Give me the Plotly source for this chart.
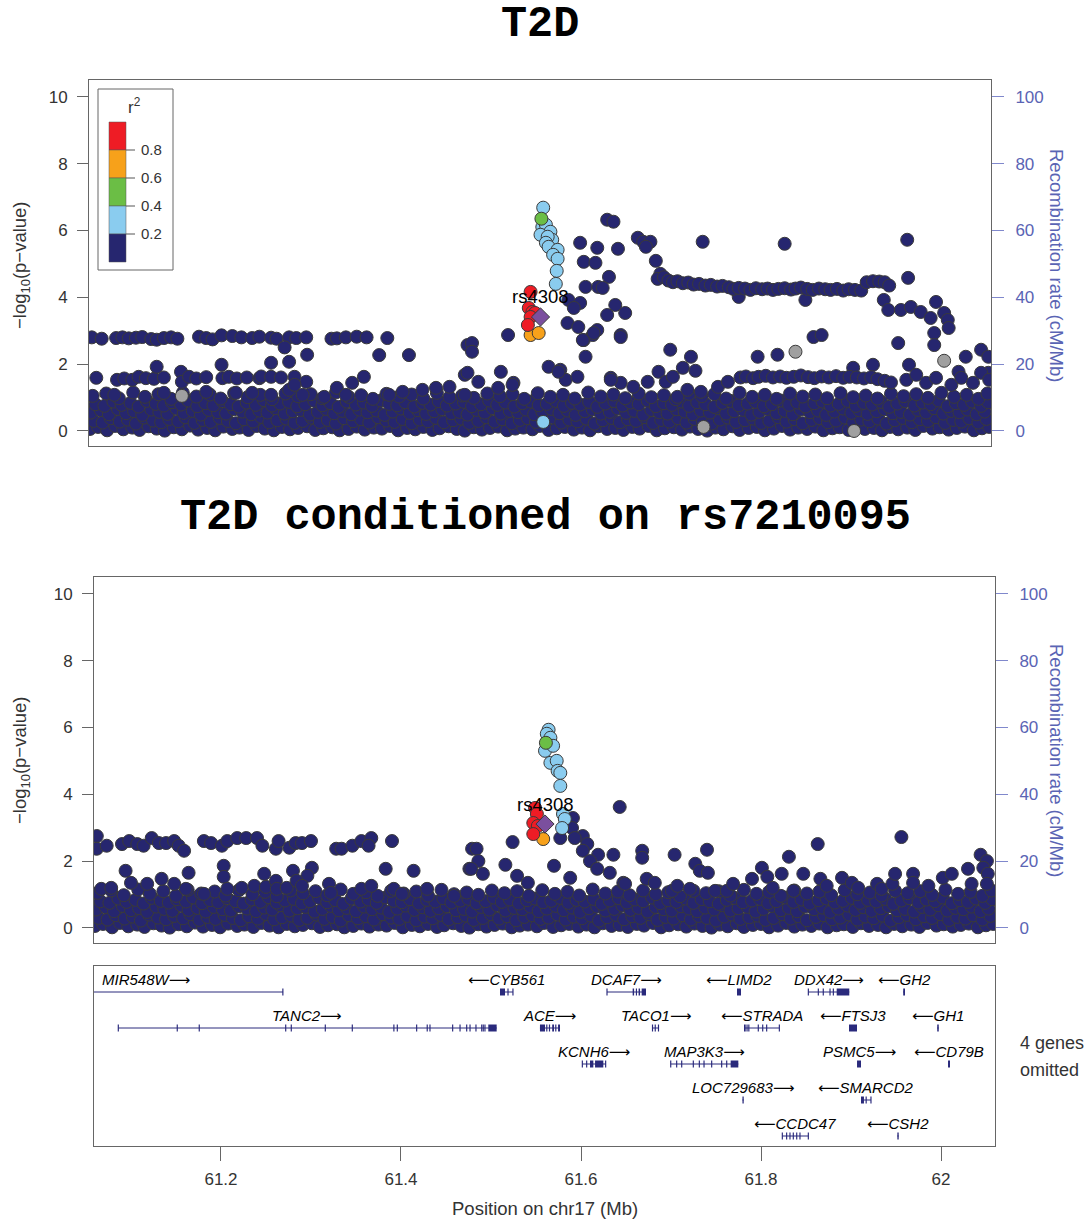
import plotly.graph_objects as go

W, H = 1092, 1222

# ---------------- DATA ----------------
# SNP positions are given in kb past 61.0 Mb on chr17; values are -log10(p)
# dense low-significance background shared by both panels
band = [
 (60,.06),(69,.12),(79,.02),(88,.15),(97,.05),(107,.10),(115,.03),(125,.14),(134,.07),(143,.01),(153,.11),(162,.05),(171,.16),(180,.04),(190,.09),(199,.02),(208,.13),(218,.06),(226,.10),(236,.03),(245,.15),(254,.07),(264,.02),(273,.12),(282,.05),(291,.09),(301,.14),(310,.03),(319,.08),(329,.11),(337,.02),(347,.06),(356,.13),(365,.04),(375,.10),(384,.07),(393,.15),(402,.02),(412,.09),(421,.05),(430,.12),(440,.03),(448,.08),(458,.14),(467,.06),(476,.01),(486,.11),(495,.04),(504,.09),(513,.13),(523,.02),(532,.07),(541,.10),(551,.05),(559,.15),(569,.03),(578,.08),(587,.12),(597,.04),(606,.10),(615,.02),(624,.14),(634,.06),(643,.09),(652,.03),(662,.12),(670,.07),(680,.15),(689,.02),(698,.08),(708,.11),(717,.04),(726,.13),(735,.06),(745,.01),(754,.10),(763,.05),(773,.14),(781,.03),(791,.09),(800,.12),(809,.02),(819,.07),(828,.15),(837,.04),(846,.10),(856,.06),(865,.13),(874,.02),(884,.08),(892,.11),(902,.03),(911,.14),(920,.06),(930,.09),(939,.02),(948,.12),(957,.05),(967,.10),(976,.03),(985,.15),(995,.07),(1003,.11),(1013,.04),(1022,.09),(1031,.13),(1041,.02),(1050,.08),(1058,.12),
 (64,.30),(74,.25),(83,.38),(93,.28),(102,.34),(111,.22),(120,.40),(130,.31),(139,.26),(148,.36),(158,.29),(166,.41),(176,.24),(185,.33),(194,.27),(204,.39),(213,.30),(222,.23),(231,.35),(241,.28),(250,.42),(259,.26),(268,.32),(278,.37),(287,.24),(296,.30),(306,.40),(315,.27),(324,.33),(333,.22),(342,.38),(352,.29),(361,.35),(370,.25),(380,.41),(389,.31),(398,.27),(407,.36),(417,.23),(426,.34),(435,.29),(444,.39),(453,.26),(463,.32),(472,.37),(481,.24),(491,.30),(500,.41),(509,.28),(518,.35),(528,.23),(537,.33),(546,.38),(555,.27),(564,.31),(574,.40),(583,.25),(592,.34),(601,.29),(611,.37),(620,.22),(629,.32),(639,.39),(648,.26),(657,.35),(666,.30),(676,.41),(685,.24),(694,.33),(703,.28),(713,.38),(722,.25),(731,.36),(740,.30),(750,.22),(759,.34),(768,.40),(777,.27),(787,.32),(796,.37),(805,.24),(814,.30),(824,.41),(833,.28),(842,.35),(851,.23),(861,.33),(870,.38),(879,.26),(888,.31),(898,.40),(907,.25),(916,.34),(925,.29),(935,.37),(944,.22),(953,.32),(962,.39),(972,.26),(981,.35),(990,.30),(999,.41),(1009,.24),(1018,.33),(1027,.28),(1036,.38),(1046,.25),(1055,.36),
 (61,.55),(72,.62),(81,.50),(91,.66),(100,.53),(109,.59),(118,.48),(128,.64),(137,.57),(146,.51),(156,.67),(164,.54),(174,.60),(183,.49),(192,.63),(202,.56),(211,.52),(220,.65),(229,.58),(239,.50),(248,.61),(257,.55),(266,.68),(276,.52),(285,.59),(294,.63),(304,.49),(313,.57),(322,.66),(331,.53),(340,.60),(350,.50),(359,.64),(368,.56),(378,.61),(387,.48),(396,.58),(405,.67),(415,.54),(424,.62),(433,.51),(442,.59),(451,.65),(461,.53),(470,.57),(479,.49),(489,.63),(498,.55),(507,.68),(516,.52),(526,.60),(535,.56),(544,.64),(553,.50),(562,.58),(572,.66),(581,.53),(590,.61),(599,.48),(609,.59),(618,.64),(627,.52),(637,.57),(646,.67),(655,.54),(664,.60),(674,.49),(683,.63),(692,.56),(701,.52),(711,.65),(720,.58),(729,.50),(738,.61),(748,.55),(757,.68),(766,.52),(775,.59),(785,.63),(794,.49),(803,.57),(812,.66),(822,.53),(831,.60),(840,.50),(849,.64),(859,.56),(868,.61),(877,.48),(886,.58),(896,.67),(905,.54),(914,.62),(923,.51),(933,.59),(942,.65),(951,.53),(960,.57),(970,.49),(979,.63),(988,.55),(997,.68),(1007,.52),(1016,.60),(1025,.56),(1034,.64),(1044,.50),(1053,.58),
 (66,.80),(76,.75),(86,.88),(95,.78),(105,.84),(114,.73),(123,.90),(133,.81),(142,.76),(151,.86),(161,.79),(169,.91),(179,.74),(188,.83),(197,.77),(207,.89),(216,.80),(225,.73),(234,.85),(244,.78),(253,.92),(262,.76),(271,.82),(281,.87),(290,.74),(299,.80),(309,.90),(318,.77),(327,.83),(336,.72),(345,.88),(355,.79),(364,.85),(373,.75),(383,.91),(392,.81),(401,.77),(410,.86),(420,.73),(429,.84),(438,.79),(447,.89),(456,.76),(466,.82),(475,.87),(484,.74),(494,.80),(503,.91),(512,.78),(521,.85),(531,.73),(540,.83),(549,.88),(558,.77),(567,.81),(577,.90),(586,.75),(595,.84),(604,.79),(614,.87),(623,.72),(632,.82),(642,.89),(651,.76),(660,.85),(669,.80),(679,.91),(688,.74),(697,.83),(706,.78),(716,.88),(725,.75),(734,.86),(743,.80),(753,.72),(762,.84),(771,.90),(780,.77),(790,.82),(799,.87),(808,.74),(817,.80),(827,.91),(836,.78),(845,.85),(854,.73),(864,.83),(873,.88),(882,.76),(891,.81),(901,.90),(910,.75),(919,.84),(928,.79),(938,.87),(947,.72),(956,.82),(965,.89),(975,.76),(984,.85),(993,.80),(1002,.91),(1012,.74),(1021,.83),(1030,.78),(1039,.88),(1049,.75),(1057,.86),
 (63,1.05),(78,1.12),(92,.98),(108,1.15),(121,1.02),(136,1.10),(150,.96),(163,1.14),(178,1.03),(193,1.09),(205,.97),(220,1.13),(235,1.01),(249,1.08),(262,.95),(277,1.12),(291,1.04),(305,1.10),(318,.98),(333,1.15),(347,1.02),(361,1.07),(374,.96),(389,1.11),(403,1.03),(417,1.09),(430,.97),(445,1.14),(459,1.01),(473,1.06),(486,.99),(501,1.12),(515,1.04),(529,1.10),(542,.96),(557,1.13),(571,1.02),(585,1.08),(598,.97),(613,1.15),(627,1.03),(641,1.09),(654,.98),(669,1.12),(683,1.01),(697,1.07),(710,.95),(725,1.11),(739,1.04),(753,1.10),(766,.97),(781,1.14),(795,1.02),(809,1.08),(822,.96),(837,1.12),(851,1.03),(865,1.09),(878,.98),(893,1.13),(907,1.01),(921,1.06),(934,.97),(949,1.11),(963,1.04),(977,1.10),(990,.99),(1005,1.14),(1019,1.02),(1033,1.08),(1046,.96),(1056,1.12),
]

# ---- Panel 1: T2D ----
t2d_navy = [
 # row near 2.8
 (62,2.80),(73,2.76),(89,2.78),(96,2.80),(103,2.77),(111,2.79),(118,2.81),(128,2.75),(134,2.73),(142,2.78),(150,2.80),(157,2.76),(181,2.82),(189,2.78),(196,2.74),(206,2.86),(218,2.84),(228,2.80),(240,2.78),(248,2.82),(261,2.79),(267,2.76),(281,2.80),(289,2.78),(300,2.80),(328,2.76),(334,2.77),(344,2.80),(356,2.82),(367,2.80),(390,2.78),
 (276,2.50),(301,2.28),(381,2.27),(414,2.27),(479,2.57),
 # row near 1.6
 (67,1.59),(90,1.53),(98,1.57),(107,1.53),(114,1.62),(122,1.58),(131,1.56),(134,1.92),(142,1.60),(161,1.77),(162,1.47),(170,1.62),(178,1.57),(189,1.61),(206,1.98),(207,1.58),(214,1.62),(223,1.57),(234,1.60),(248,1.58),(250,1.63),(261,2.04),(261,1.62),(272,1.60),(281,2.07),(287,1.62),(300,1.47),(351,1.44),(364,1.62),(476,1.68),
 (87,1.08),(142,1.14),(189,1.17),(222,1.14),(240,1.14),(261,1.08),(281,1.23),(287,1.38),(296,1.08),(320,1.02),(334,1.29),(344,1.08),(392,1.08),(407,1.17),(429,1.23),(444,1.29),(459,1.32),(476,1.08),
 # around the peak
 (634,6.32),(641,6.26),(668,5.78),(674,5.66),(682,5.66),(677,5.51),(604,5.63),(623,5.48),(646,5.45),(608,5.06),(621,5.03),(688,5.09),(693,4.70),(636,4.61),(610,4.31),(624,4.31),(629,4.28),(591,3.92),(604,3.83),(597,3.68),(643,3.77),(634,3.47),(654,3.53),(590,3.23),(602,3.11),(623,3.02),(608,2.72),(649,2.87),(618,2.87),(607,2.72),(619,2.93),(649,2.81),(524,2.87),(484,2.63),(484,2.37),(610,2.22),(569,1.92),(479,1.74),(516,1.77),(530,1.44),(638,1.59),(582,1.83),(588,1.53),(580,1.77),(601,1.62),(649,1.44),(491,1.47),(513,1.29),(529,1.38),
 (740,5.66),(831,5.60),(967,5.72),(968,4.58),(704,2.43),(727,2.22),(718,1.89),(732,1.80),(691,1.77),(863,2.81),(872,2.87),(801,2.22),(823,2.28),(907,1.89),(929,1.98),(957,2.63),(969,1.98),(1024,1.77),(1032,2.22),(1049,2.43),(1057,2.22),(1057,1.74),(780,4.01),(854,3.92),
 # plateau near 4.3
 (690,4.55),(697,4.60),(702,4.50),(707,4.45),(712,4.48),(718,4.42),(724,4.44),(730,4.38),(736,4.40),(743,4.35),(749,4.37),(756,4.32),(762,4.34),(769,4.30),(774,4.25),(780,4.28),(787,4.26),(793,4.22),(799,4.27),(806,4.24),(812,4.26),(818,4.22),(824,4.25),(831,4.27),(838,4.23),(843,4.26),(849,4.29),(856,4.25),(862,4.22),(869,4.26),(876,4.24),(882,4.22),(889,4.25),(896,4.20),(902,4.24),(909,4.22),(916,4.20),(922,4.45),(929,4.48),(936,4.47),(942,4.45),(947,4.35),
 (941,3.92),(946,3.62),(960,3.62),(971,3.71),(982,3.56),(993,3.38),(999,3.86),(1008,3.53),(1012,3.32),(1013,3.08),(997,2.93),(997,2.57),
 # plateau near 1.6
 (782,1.60),(788,1.63),(796,1.58),(802,1.62),(810,1.65),(818,1.60),(826,1.63),(833,1.59),(841,1.62),(849,1.66),(857,1.61),(864,1.58),(872,1.63),(880,1.60),(888,1.64),(896,1.59),(903,1.62),(911,1.60),(919,1.57),(927,1.61),(934,1.55),(942,1.50),(949,1.45),
 (638,1.53),(663,1.32),(679,1.47),(699,1.47),(707,1.62),(712,1.02),(723,1.23),(738,1.17),(757,1.32),(768,1.47),(966,1.53),(977,1.68),(988,1.44),(999,1.59),(1016,1.38),(1027,1.59),(1040,1.44),(1049,1.74),(1058,1.53),
]
t2d_gray = [(162,1.05),(843,2.37),(1008,2.10),(908,0.00),(741,0.12)]
t2d_lightblue = [(563,6.68),(562,6.10),(566,6.17),(571,5.96),(560,5.87),(573,5.72),(568,5.81),(566,5.63),(569,5.51),(579,5.42),(574,5.27),(579,5.15),(578,4.79),(577,4.40),(563,0.27)]
t2d_green = [(561,6.35)]
t2d_orange = [(549,2.87),(558,2.93)]
t2d_red = [(549,4.16),(547,3.68),(551,3.56),(554,3.53),(549,3.41),(546,3.17)]
t2d_lead = [(560,3.41)]

# ---- Panel 2: T2D conditioned on rs7210095 ----
cond_navy = [
 # row near 2.5
 (62,2.75),(62,2.37),(73,2.46),(90,2.51),(98,2.60),(107,2.51),(114,2.46),(123,2.69),(131,2.54),(139,2.54),(148,2.60),(153,2.46),(159,2.31),(181,2.60),(189,2.54),(201,2.46),(207,2.60),(218,2.69),(228,2.69),(240,2.69),(246,2.46),(261,2.37),(264,2.60),(276,2.40),(283,2.54),(290,2.54),(300,2.60),(328,2.37),(334,2.37),(346,2.46),(356,2.60),(367,2.69),(364,2.46),(390,2.60),(479,2.37),
 # near 1.7
 (94,1.71),(164,1.65),(203,1.86),(203,1.53),(248,1.62),(280,1.71),(301,1.80),(296,1.56),(383,1.77),(414,1.71),(476,1.77),
 # near 1.2
 (100,1.35),(118,1.32),(134,1.47),(148,1.32),(67,1.17),(78,1.20),(161,1.17),(181,1.02),(207,1.17),(223,1.20),(237,1.26),(250,1.23),(261,1.41),(262,1.17),(273,1.20),(284,1.41),(290,1.26),(320,1.32),(322,1.05),(356,1.17),(367,1.26),(392,1.17),(401,1.02),(429,1.17),(459,0.96),
 # around the peak
 (643,3.62),(591,3.29),(590,2.99),(602,2.75),(607,2.51),(593,2.69),(577,2.69),(524,2.57),(484,2.37),(486,2.00),(478,1.77),(491,1.62),(516,1.89),(570,1.86),(619,2.19),(636,2.19),(668,2.31),(668,2.10),(602,2.31),(610,2.00),(618,1.77),(632,1.65),(588,1.50),(647,1.35),(529,1.56),(541,1.35),
 # right side
 (704,2.19),(740,2.34),(831,2.13),(863,2.51),(956,2.72),(1044,2.19),(1051,2.00),
 (649,1.32),(673,1.47),(682,1.35),(701,1.11),(707,1.26),(721,1.17),(727,1.92),(732,1.71),(741,1.65),(749,1.11),(762,1.11),(769,1.32),(790,1.47),(801,1.80),(807,1.53),(813,1.20),(823,1.62),(836,1.11),(847,1.62),(866,1.47),(873,1.26),(890,1.50),(901,1.35),(908,1.20),(929,1.32),(934,1.17),(946,1.32),(949,1.62),(969,1.62),(969,1.35),(986,1.26),(1002,1.50),(1012,1.62),(1030,1.77),(1034,1.32),(1047,1.80),(1052,1.62),(1051,1.32),
]
cond_lightblue = [(564,5.93),(562,5.81),(566,5.69),(560,5.30),(569,5.45),(566,4.94),(573,5.00),(574,4.70),(577,4.64),(577,4.25),(580,3.41),(582,3.26),(579,2.99)]
cond_green = [(561,5.54)]
cond_orange = [(558,2.66)]
cond_red = [(549,3.59),(551,3.41),(547,3.14),(552,3.05),(547,2.81)]
cond_lead = [(560,3.11)]

lead_snp = "rs4308"

# ---- LD legend ----
ld_bins = ["0.8", "0.6", "0.4", "0.2"]
ld_colors = ["#EE1C25", "#F7A11A", "#6BBE45", "#8ACCEF", "#26266F"]

# ---- Genes (Mb) ----
gene_name = ["MIR548W", "TANC2", "CYB561", "ACE", "DCAF7", "LIMD2", "DDX42", "GH2", "TACO1", "STRADA",
             "FTSJ3", "GH1", "KCNH6", "MAP3K3", "PSMC5", "CD79B", "LOC729683", "SMARCD2", "CCDC47", "CSH2"]
gene_start = [60.964, 61.0859, 61.5100, 61.5544, 61.6289, 61.7733, 61.8526, 61.9580, 61.6789, 61.7811,
              61.8978, 61.9958, 61.6015, 61.6997, 61.9067, 62.0078, 61.7794, 61.9111, 61.8237, 61.9515]
gene_end = [61.269, 61.5063, 61.5244, 61.5767, 61.6722, 61.7778, 61.8981, 61.9600, 61.6867, 61.8204,
            61.9067, 61.9975, 61.6274, 61.7748, 61.9111, 62.0100, 61.7808, 61.9222, 61.8526, 61.9530]
gene_row = [1, 2, 1, 2, 1, 1, 1, 1, 2, 2, 2, 2, 3, 3, 3, 3, 4, 4, 5, 5]
gene_strand = ["+", "+", "-", "+", "+", "-", "+", "-", "+", "-", "-", "-", "+", "+", "+", "-", "+", "-", "-", "-"]
gene_exons = [
    [(61.2685, 61.269)],
    [(61.0859, 61.0859), (61.1514, 61.1514), (61.1755, 61.1762), (61.2719, 61.2719), (61.2781, 61.2781),
     (61.3159, 61.3159), (61.3459, 61.3459), (61.3918, 61.3924), (61.3959, 61.3959), (61.4174, 61.4174),
     (61.4289, 61.4294), (61.4322, 61.4322), (61.4574, 61.4574), (61.4653, 61.4659), (61.4727, 61.4733),
     (61.4767, 61.4767), (61.4833, 61.4833), (61.4897, 61.4897), (61.4914, 61.4914), (61.4933, 61.4933),
     (61.4970, 61.5063)],
    [(61.5100, 61.5156), (61.5189, 61.5189), (61.5244, 61.5244)],
    [(61.5544, 61.5600), (61.5620, 61.5620), (61.5650, 61.5650), (61.5680, 61.5700), (61.5720, 61.5720), (61.5745, 61.5767)],
    [(61.6289, 61.6289), (61.6574, 61.6590), (61.6610, 61.6622), (61.6640, 61.6656), (61.6674, 61.6722)],
    [(61.7733, 61.7778)],
    [(61.8526, 61.8526), (61.8637, 61.8637), (61.8692, 61.8692), (61.8767, 61.8767), (61.8804, 61.8804), (61.8841, 61.8981)],
    [(61.9580, 61.9600)],
    [(61.6789, 61.6800), (61.6820, 61.6830), (61.6855, 61.6867)],
    [(61.7811, 61.7830), (61.7845, 61.7845), (61.7860, 61.7870), (61.7970, 61.7970), (61.8019, 61.8019), (61.8063, 61.8063), (61.8204, 61.8204)],
    [(61.8978, 61.9067)],
    [(61.9958, 61.9975)],
    [(61.6015, 61.6015), (61.6063, 61.6063), (61.6100, 61.6137), (61.6156, 61.6248), (61.6274, 61.6274)],
    [(61.6997, 61.6997), (61.7063, 61.7063), (61.7119, 61.7119), (61.7248, 61.7248), (61.7315, 61.7315),
     (61.7367, 61.7367), (61.7452, 61.7452), (61.7563, 61.7563), (61.7619, 61.7619), (61.7663, 61.7748)],
    [(61.9067, 61.9111)],
    [(62.0078, 62.0100)],
    [(61.7794, 61.7808)],
    [(61.9111, 61.9144), (61.9165, 61.9172), (61.9222, 61.9222)],
    [(61.8237, 61.8237), (61.8285, 61.8285), (61.8322, 61.8322), (61.8359, 61.8359), (61.8397, 61.8397), (61.8433, 61.8433), (61.8526, 61.8526)],
    [(61.9515, 61.9530)],
]
omitted_note = ["4 genes", "omitted"]

x_ticks = [61.2, 61.4, 61.6, 61.8, 62.0]
x_tick_text = ["61.2", "61.4", "61.6", "61.8", "62"]
p_ticks = [0, 2, 4, 6, 8, 10]
rec_ticks = [0, 20, 40, 60, 80, 100]

titles = ["T2D", "T2D conditioned on rs7210095"]

# ---------------- FIGURE ----------------
FONT = "Liberation Sans, Arial, sans-serif"
MONO = "Liberation Mono, Courier New, monospace"
AX = "#666666"
TXT = "#333333"
REC = "#5A64B4"
GENE = "#2A2A7C"
OUTL = "#3A3A3A"
XR = [61.0589, 62.0600]


def px(x):
    return x / W


def py(y):
    return 1 - y / H


fig = go.Figure()


def add_points(pts, color, xa, ya, symbol="circle", size=13):
    fig.add_trace(go.Scatter(
        x=[61.0 + k / 1000.0 for k, _ in pts], y=[v for _, v in pts],
        mode="markers", xaxis=xa, yaxis=ya, showlegend=False, hoverinfo="skip",
        marker=dict(color=color, size=size, symbol=symbol, line=dict(color=OUTL, width=1))))


for xa, ya, navy, gray, lb, gr, orr, red, lead in [
        ("x", "y", t2d_navy, t2d_gray, t2d_lightblue, t2d_green, t2d_orange, t2d_red, t2d_lead),
        ("x2", "y3", cond_navy, [], cond_lightblue, cond_green, cond_orange, cond_red, cond_lead)]:
    add_points(band, ld_colors[4], xa, ya)
    add_points(navy, ld_colors[4], xa, ya)
    if gray:
        add_points(gray, "#A0A0A0", xa, ya)
    add_points(lb, ld_colors[3], xa, ya)
    add_points(gr, ld_colors[2], xa, ya)
    add_points(orr, ld_colors[1], xa, ya)
    add_points(red, ld_colors[0], xa, ya)
    add_points(lead, "#7B4F9E", xa, ya, symbol="diamond", size=14)

# empty traces to register the recombination-rate axes and gene axis
fig.add_trace(go.Scatter(x=[61.5], y=[None], xaxis="x", yaxis="y2", showlegend=False, hoverinfo="skip"))
fig.add_trace(go.Scatter(x=[61.5], y=[None], xaxis="x2", yaxis="y4", showlegend=False, hoverinfo="skip"))
fig.add_trace(go.Scatter(x=[61.5], y=[None], xaxis="x3", yaxis="y5", showlegend=False, hoverinfo="skip"))

top_dom_x = [px(89), px(991)]
bot_dom_x = [px(94), px(995)]
top_dom_y = [py(446), py(80)]
bot_dom_y = [py(943), py(577)]
gene_dom_y = [py(1146), py(966)]

box = dict(showline=True, mirror=True, linecolor=AX, linewidth=1, showgrid=False, zeroline=False)
p_axis = dict(range=[-0.45, 10.5], tickvals=p_ticks, ticks="outside", ticklen=11, tickcolor=AX,
              tickfont=dict(family=FONT, size=17, color=TXT), ticklabelstandoff=6, **box)
r_axis = dict(range=[-4.5, 105], tickvals=rec_ticks, ticks="outside", ticklen=12, tickcolor="#8088CC",
              tickfont=dict(family=FONT, size=17, color=REC), ticklabelstandoff=8, side="right",
              showgrid=False, zeroline=False, showline=False)

fig.update_layout(
    width=W, height=H, margin=dict(l=0, r=0, t=0, b=0),
    paper_bgcolor="white", plot_bgcolor="white",
    xaxis=dict(domain=top_dom_x, range=XR, showticklabels=False, ticks="", anchor="y", **box),
    yaxis=dict(domain=top_dom_y, anchor="x", **p_axis),
    yaxis2=dict(overlaying="y", anchor="x", **r_axis),
    xaxis2=dict(domain=bot_dom_x, range=XR, showticklabels=False, ticks="", anchor="y3", **box),
    yaxis3=dict(domain=bot_dom_y, anchor="x2", **p_axis),
    yaxis4=dict(overlaying="y3", anchor="x2", **r_axis),
    xaxis3=dict(domain=bot_dom_x, range=XR, anchor="y5", tickvals=x_ticks, ticktext=x_tick_text,
                ticks="outside", ticklen=14, tickcolor=AX, ticklabelstandoff=4,
                tickfont=dict(family=FONT, size=17, color=TXT), **box),
    yaxis5=dict(domain=gene_dom_y, range=[180, 0], anchor="x3", showticklabels=False, ticks="", **box),
)

shapes = []
annotations = []


def note(x, y, text, size, color=TXT, family=FONT, xanchor="center", angle=0, xref="paper", yref="paper"):
    annotations.append(dict(xref=xref, yref=yref, x=x, y=y, text=text, showarrow=False,
                            xanchor=xanchor, yanchor="middle", textangle=angle,
                            font=dict(family=family, size=size, color=color)))


ARROW_R = '<span style="font-family:DejaVu Sans">\u27f6</span>'
ARROW_L = '<span style="font-family:DejaVu Sans">\u27f5</span>'

# genes
for i, name in enumerate(gene_name):
    yl = 26 + 36 * (gene_row[i] - 1)
    shapes.append(dict(type="line", xref="x3", yref="y5", x0=gene_start[i], x1=gene_end[i], y0=yl, y1=yl,
                       line=dict(color=GENE, width=1)))
    for s, e in gene_exons[i]:
        if e - s < 0.0013:
            m = (s + e) / 2
            s, e = m - 0.00065, m + 0.00065
        shapes.append(dict(type="rect", xref="x3", yref="y5", x0=s, x1=e, y0=yl - 3.5, y1=yl + 3.5,
                           line=dict(width=0), fillcolor=GENE))
    label = name + ARROW_R if gene_strand[i] == "+" else ARROW_L + name
    note((gene_start[i] + gene_end[i]) / 2, yl - 12, "<i>" + label + "</i>", 15, color="black",
         xref="x3", yref="y5")

note(px(1018), py(1043), omitted_note[0], 18, xanchor="left")
note(px(1018), py(1070), omitted_note[1], 18, xanchor="left")

# titles
note(px(540), py(25), "<b>" + titles[0] + "</b>", 43.5, color="black", family=MONO)
note(px(545), py(517), "<b>" + titles[1] + "</b>", 43.5, color="black", family=MONO)

# axis titles
for yc in (265, 760):
    note(px(21), py(yc), "\u2212log<sub>10</sub>(p\u2212value)", 18.5, angle=-90)
    note(px(1057), py(yc), "Recombination rate (cM/Mb)", 18.5, color=REC, angle=90)
note(px(545), py(1208), "Position on chr17 (Mb)", 18.5)

# lead SNP labels
note(61.56, 4.01, lead_snp, 18.5, color="black", xref="x", yref="y")
note(61.56, 3.68, lead_snp, 18.5, color="black", xref="x2", yref="y3")

# LD legend (top panel)
shapes.append(dict(type="rect", xref="paper", yref="paper", x0=px(98), x1=px(173), y0=py(270), y1=py(89),
                   line=dict(color=AX, width=1), fillcolor="white"))
block_edges = [122, 150, 178, 206, 234, 262]
for i in range(5):
    shapes.append(dict(type="rect", xref="paper", yref="paper", x0=px(109), x1=px(126),
                       y0=py(block_edges[i + 1]), y1=py(block_edges[i]),
                       line=dict(color="#555555", width=0.5), fillcolor=ld_colors[i]))
for i, lab in enumerate(ld_bins):
    yb = block_edges[i + 1]
    shapes.append(dict(type="line", xref="paper", yref="paper", x0=px(126), x1=px(135), y0=py(yb), y1=py(yb),
                       line=dict(color="#555555", width=1)))
    note(px(139), py(yb), lab, 15, xanchor="left")
note(px(134), py(106), "r<sup>2</sup>", 17)

fig.update_layout(shapes=shapes, annotations=annotations)
fig.write_html("out.html")
